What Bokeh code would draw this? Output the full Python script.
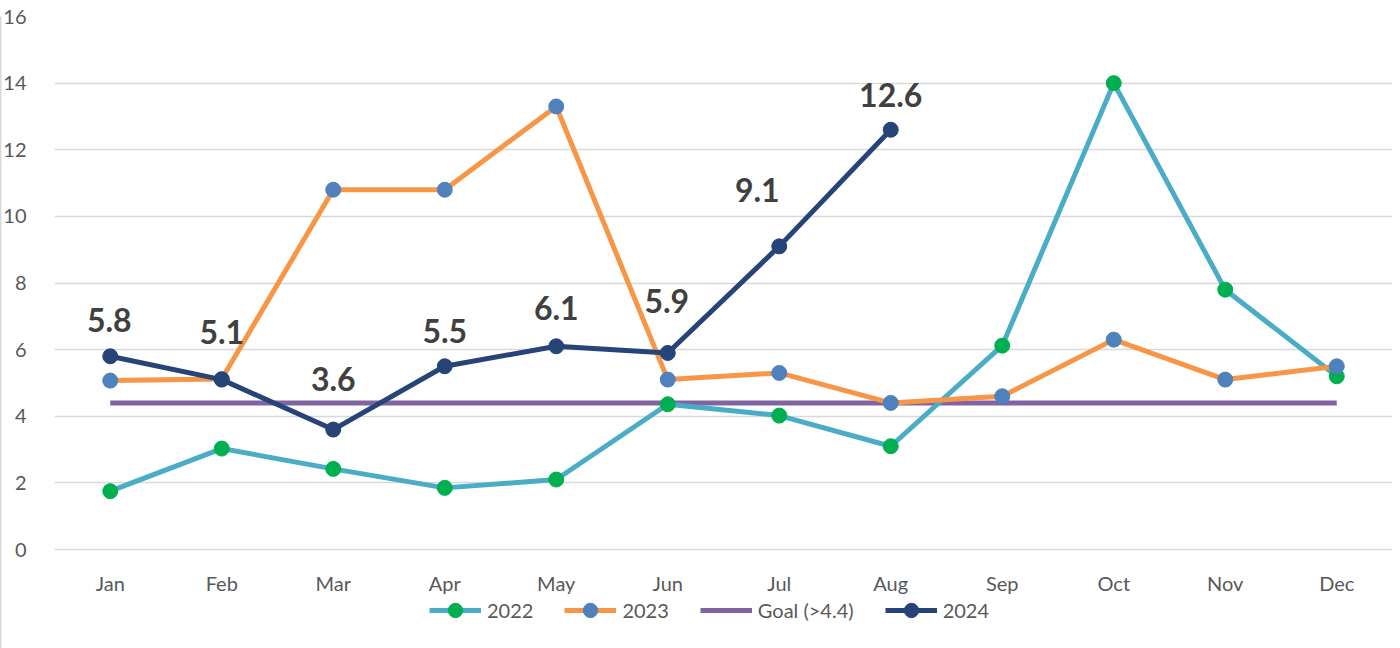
from bokeh.plotting import figure
from bokeh.models import ColumnDataSource, Legend, LegendItem, FixedTicker, LinearAxis
from bokeh.core.properties import value
from bokeh.embed import file_html
from bokeh.resources import INLINE

months = ["Jan", "Feb", "Mar", "Apr", "May", "Jun", "Jul", "Aug", "Sep", "Oct", "Nov", "Dec"]
y2022 = [1.75, 3.03, 2.42, 1.85, 2.1, 4.36, 4.02, 3.1, 6.12, 14.0, 7.8, 5.2]
y2023 = [5.07, 5.12, 10.8, 10.8, 13.3, 5.1, 5.3, 4.4, 4.6, 6.3, 5.1, 5.5]
goal = [4.4] * 12
months_2024 = ["Jan", "Feb", "Mar", "Apr", "May", "Jun", "Jul", "Aug"]
y2024 = [5.8, 5.1, 3.6, 5.5, 6.1, 5.9, 9.1, 12.6]
y_ticks = [0, 2, 4, 6, 8, 10, 12, 14, 16]

# label pixel offsets (style only)
lab_dx = [-1, 0, 0, 0, 0, -1, -22, 0]
lab_dy = [-36, -48, -51, -35, -38, -52, -56, -35]

FONT = "Lato"
C2022_LINE = "#4BACC6"
C2022_MARK = "#00B050"
C2023_LINE = "#F79646"
C2023_MARK = "#4F81BD"
CGOAL = "#8064A2"
C2024 = "#264478"

W, H = 1400, 648
TOP, LEFT, RIGHT = 16, 54, 8
ZERO_PX = 549                     # canvas row of value 0
px_per_unit = (ZERO_PX - TOP) / 16.0
y_start = -(H - ZERO_PX) / px_per_unit   # frame extends below 0 to host month labels + legend

p = figure(x_range=months, y_range=(y_start, 16), width=W, height=H,
           output_backend="svg", toolbar_location=None,
           min_border_left=LEFT, min_border_right=RIGHT, min_border_top=TOP, min_border_bottom=0)
p.x_range.range_padding = 0
p.outline_line_color = None
p.background_fill_color = "white"
p.border_fill_color = "white"

p.xgrid.grid_line_color = None
p.ygrid.grid_line_color = "#D9D9D9"
p.ygrid.grid_line_width = 1.5
p.yaxis.ticker = FixedTicker(ticks=y_ticks)
p.ygrid.ticker = FixedTicker(ticks=y_ticks)

p.xaxis.visible = False
ax = p.yaxis[0]
ax.axis_line_color = None
ax.major_tick_line_color = None
ax.minor_tick_line_color = None
ax.major_label_text_font = FONT
ax.major_label_text_font_size = "20px"
ax.major_label_text_color = "#595959"
ax.major_label_standoff = 22

# thin chart border at the far left
edge = LinearAxis(ticker=FixedTicker(ticks=[]), axis_line_color="#D9D9D9", axis_line_width=2,
                  major_tick_line_color=None, minor_tick_line_color=None,
                  major_label_text_font_size="0px")
p.add_layout(edge, "left")

src22 = ColumnDataSource(dict(x=months, y=y2022))
src23 = ColumnDataSource(dict(x=months, y=y2023))
srcg = ColumnDataSource(dict(x=months, y=goal))
src24 = ColumnDataSource(dict(x=months_2024, y=y2024,
                              lab=[f"{v:.1f}" for v in y2024],
                              dx=lab_dx, dy=lab_dy))
srcm = ColumnDataSource(dict(x=months, y=[0] * len(months)))

# month labels (category axis)
p.text("x", "y", text="x", source=srcm, y_offset=33,
       text_align="center", text_baseline="middle",
       text_font=value(FONT), text_font_size="20px", text_color="#595959")

lg = p.line("x", "y", source=srcg, line_color=CGOAL, line_width=5)
l22 = p.line("x", "y", source=src22, line_color=C2022_LINE, line_width=5)
m22 = p.scatter("x", "y", source=src22, size=15, fill_color=C2022_MARK, line_color=C2022_MARK)
l23 = p.line("x", "y", source=src23, line_color=C2023_LINE, line_width=5)
m23 = p.scatter("x", "y", source=src23, size=15, fill_color=C2023_MARK, line_color=C2023_MARK)
l24 = p.line("x", "y", source=src24, line_color=C2024, line_width=5)
m24 = p.scatter("x", "y", source=src24, size=15, fill_color=C2024, line_color=C2024)

p.text("x", "y", text="lab", source=src24, x_offset="dx", y_offset="dy",
       text_align="center", text_baseline="middle",
       text_font=value(FONT), text_font_style="bold", text_font_size="32px",
       text_color="#404040")

legend = Legend(items=[
    LegendItem(label="2022", renderers=[l22, m22]),
    LegendItem(label="2023", renderers=[l23, m23]),
    LegendItem(label="Goal (>4.4)", renderers=[lg]),
    LegendItem(label="2024", renderers=[l24, m24]),
], orientation="horizontal", location=(375, 20))
legend.label_text_font = FONT
legend.label_text_font_size = "20px"
legend.label_text_color = "#595959"
legend.border_line_color = None
legend.background_fill_alpha = 0
legend.glyph_width = 52
legend.glyph_height = 36
legend.label_height = 36
legend.label_standoff = 6
legend.spacing = 31
legend.padding = 0
legend.margin = 0
p.add_layout(legend, "center")

open("out.html", "w").write(file_html(p, INLINE))
